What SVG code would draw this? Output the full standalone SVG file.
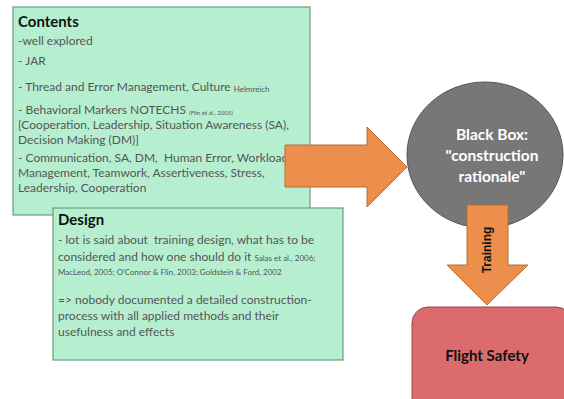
<svg xmlns="http://www.w3.org/2000/svg" width="564" height="399" viewBox="0 0 564 399">
  <style>
    .box { fill: #b6efd0; stroke: #6f9a80; stroke-width: 1.2; }
    .arrow { fill: #ec8f4c; stroke: #b66e36; stroke-width: 1; }
    .t { font-family: "Lato", "Liberation Sans", sans-serif; font-size: 12px; fill: #555555; white-space: pre; }
    .s8 { font-size: 8px; }
    .s6 { font-size: 6px; }
    .h { font-family: "Lato", "Liberation Sans", sans-serif; font-size: 15px; font-weight: bold; fill: #111111; }
    .w { font-family: "Lato", "Liberation Sans", sans-serif; font-size: 15.5px; font-weight: bold; fill: #ffffff; text-anchor: middle; }
  </style>
  <rect width="564" height="399" fill="#ffffff"/>

  <g id="contents">
    <rect class="box" x="13" y="7" width="297" height="208"/>
    <text class="h" x="18" y="27">Contents</text>
    <text class="t" x="18" y="45">-well explored</text>
    <text class="t" x="18" y="65">- JAR</text>
    <text class="t" x="18" y="91">- Thread and Error Management, Culture <tspan class="s8" dy="1">Helmreich</tspan></text>
    <text class="t" x="18" y="114">- Behavioral Markers NOTECHS <tspan class="s6" dy="1">(Flin et al., 2005)</tspan></text>
    <text class="t" x="18" y="129">[Cooperation, Leadership, Situation Awareness (SA),</text>
    <text class="t" x="18" y="144">Decision Making (DM)]</text>
    <text class="t" x="18" y="162">- Communication, SA, DM,  Human Error, Workload</text>
    <text class="t" x="18" y="177">Management, Teamwork, Assertiveness, Stress,</text>
    <text class="t" x="18" y="192">Leadership, Cooperation</text>
  </g>

  <g id="design">
    <rect class="box" x="53" y="208" width="290" height="152"/>
    <text class="h" x="58" y="225">Design</text>
    <text class="t" x="58" y="244">- lot is said about  training design, what has to be</text>
    <text class="t" x="58" y="261">considered and how one should do it <tspan class="s8">Salas et al., 2006;</tspan></text>
    <text class="t s8" x="58" y="275">MacLeod, 2005; O'Connor &amp; Flin, 2003; Goldstein &amp; Ford, 2002</text>
    <text class="t" x="58" y="304">=&gt; nobody documented a detailed construction-</text>
    <text class="t" x="58" y="320">process with all applied methods and their</text>
    <text class="t" x="58" y="336">usefulness and effects</text>
  </g>

  <g id="blackbox">
    <ellipse cx="485" cy="155" rx="78" ry="73" fill="#777777" stroke="#555555" stroke-width="1"/>
    <text class="w" x="492" y="140">Black Box:</text>
    <text class="w" x="492" y="161">"construction</text>
    <text class="w" x="492" y="182">rationale"</text>
  </g>

  <g id="flight-safety">
    <rect x="412" y="307" width="160" height="110" rx="16" fill="#db6b6d" stroke="#8e4a4a" stroke-width="1"/>
    <text class="h" x="487" y="361" text-anchor="middle" font-size="16">Flight Safety</text>
  </g>

  <g id="connectors">
    <polygon class="arrow" points="285,145 367,145 367,127 407,167 367,207 367,187 285,187"/>
    <polygon class="arrow" points="467,205 508,205 508,265 528,265 487,305 447,265 467,265"/>
    <text x="0" y="0" transform="translate(491,250) rotate(-90)" text-anchor="middle" font-family="Liberation Sans, sans-serif" font-size="12" font-weight="bold" fill="#111111">Training</text>
  </g>
</svg>
